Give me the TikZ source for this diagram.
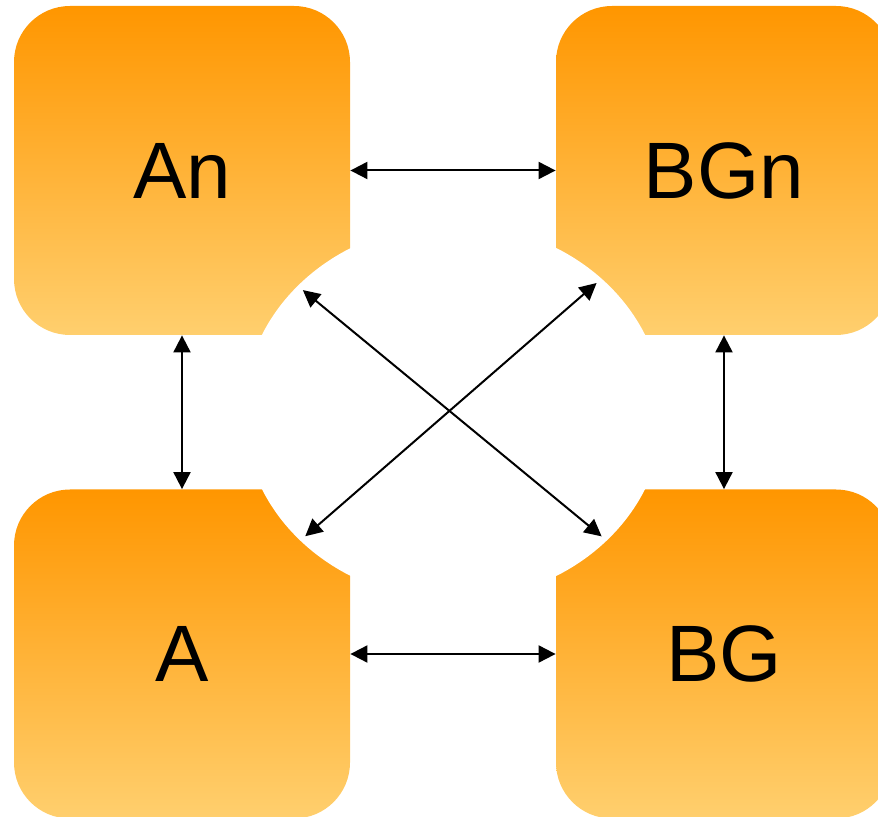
\documentclass[tikz,border=0pt]{standalone}
\usepackage{fontspec}
\setmainfont{Liberation Sans}
\usepackage{tikz}
\usetikzlibrary{shapes.geometric, arrows.meta}
\definecolor{tiletop}{RGB}{255,150,0}
\definecolor{tilebottom}{RGB}{255,207,110}
\tikzset{
    tile/.style={rectangle, rounded corners=28pt, minimum width=168pt, minimum height=164.5pt,
        inner sep=0pt, top color=tiletop, bottom color=tilebottom,
        font=\fontsize{40}{48}\selectfont},
    link/.style={line width=1pt, {Triangle[length=8.5pt,width=8.5pt]}-{Triangle[length=8.5pt,width=8.5pt]}}
}

\begin{document}
\begin{tikzpicture}[x=0.5pt, y=-0.5pt]
    \useasboundingbox (0,0) rectangle (878,817);
    \clip (0,0) rectangle (878,817);
    % four tiles, the white hole cut out of their inner corners
    \foreach \lab/\x/\y in {An/182/170.5, BGn/724/170.5, A/182/654, BG/724/654}
        \node[tile] (\lab) at (\x,\y) {\raisebox{-2pt}{\lab}};
    \node[ellipse, fill=white, minimum width=210pt, minimum height=188pt, inner sep=0pt] (hole) at (453.5,412) {};
    % links
    \draw[link] (An.east) -- (BGn.west);
    \draw[link] (A.east) -- (BG.west);
    \draw[link] (An.south) -- (A.north);
    \draw[link] (BGn.south) -- (BG.north);
    \draw[link, shorten <=3.5pt, shorten >=3.5pt] (hole.141) -- (hole.-40);
    \draw[link, shorten <=3.5pt, shorten >=3.5pt] (hole.42) -- (hole.-140);
\end{tikzpicture}
\end{document}
